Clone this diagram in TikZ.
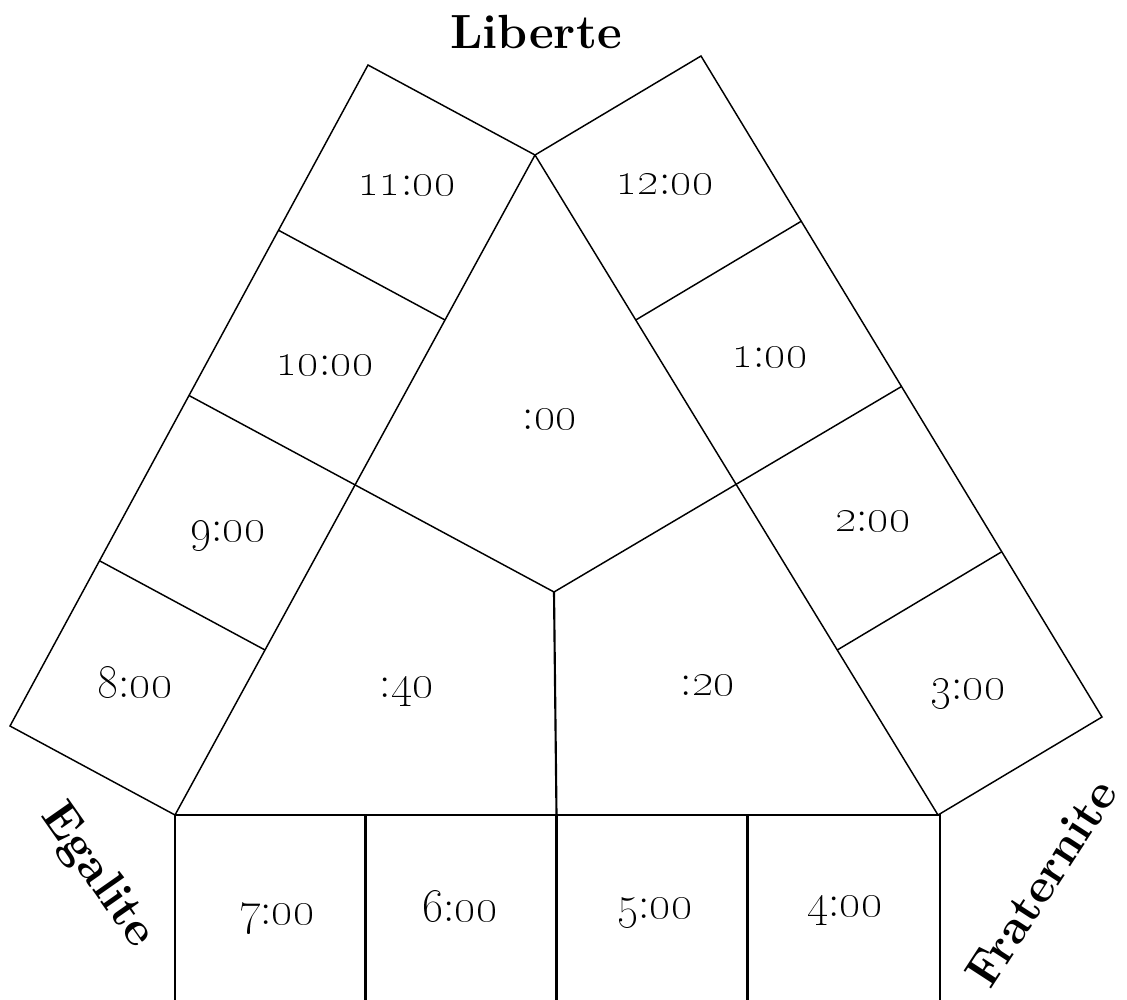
\documentclass[tikz,border=0pt]{standalone}
\usetikzlibrary{calc}

\newcommand{\os}[1]{\oldstylenums{#1}}

\begin{document}
\begin{tikzpicture}[
  x=0.75pt, y=-0.75pt,
  thinline/.style={draw=black, line width=1.1pt, line join=miter},
  thickline/.style={draw=black, line width=2pt},
  hourlabel/.style={font=\fontsize{34}{40}\selectfont, text height=14.6pt,
                    text depth=0pt, inner sep=0pt},
  armlabel/.style={font=\fontsize{36}{42}\selectfont\bfseries, inner sep=0pt},
]
\useasboundingbox (0,0) rectangle (1127,999);

% ── Inner triangle and outer corners ───────────────────────────────────
\coordinate (A)  at (535,155);
\coordinate (B)  at (175,815);
\coordinate (C)  at (938,815);
\coordinate (O)  at (554,592);
\coordinate (LT) at (368,65);
\coordinate (LB) at (10,726);
\coordinate (RT) at (701,56);
\coordinate (RB) at (1102,717);

% ── Left arm (8:00 -- 11:00) ───────────────────────────────────────────
\draw[thinline] (A) -- (LT) -- (LB) -- (B) -- cycle;
\foreach \f in {0.25,0.75}
  \draw[thinline] ($(LT)!\f!(LB)$) -- ($(A)!\f!(B)$);
\draw[thinline] ($(LT)!0.5!(LB)$) -- (O);

% ── Right arm (12:00 -- 3:00) ──────────────────────────────────────────
\draw[thinline] (A) -- (RT) -- (RB) -- (C) -- cycle;
\foreach \f in {0.25,0.75}
  \draw[thinline] ($(RT)!\f!(RB)$) -- ($(A)!\f!(C)$);
\draw[thinline] ($(RT)!0.5!(RB)$) -- (O);

% ── Bottom arm (4:00 -- 7:00) ──────────────────────────────────────────
\draw[line width=1.6pt] (O) -- ($(B)!0.5!(C)$);
\draw[thickline] ($(B)+(0,195)$) -- (B) -- (C) -- ++(2,0) -- ++(0,195);
\foreach \f in {0.25,0.5,0.75}
  \draw[thickline] ($(B)!\f!(C)$) -- ++(0,195);

% ── Hour labels ────────────────────────────────────────────────────────
\node[hourlabel] (h11) at (407,186) {\os{11}:\os{00}};
\node[hourlabel] (h10) at (325,366) {\os{10}:\os{00}};
\node[hourlabel] (h9)  at (228,532) {\os{9}:\os{00}};
\node[hourlabel] (h8)  at (135,688) {\os{8}:\os{00}};
\node[hourlabel] (h12) at (665,185) {\os{12}:\os{00}};
\node[hourlabel] (h1)  at (770,358) {\os{1}:\os{00}};
\node[hourlabel] (h2)  at (873,522) {\os{2}:\os{00}};
\node[hourlabel] (h3)  at (968,690) {\os{3}:\os{00}};
\node[hourlabel] (h7)  at (277,915) {\os{7}:\os{00}};
\node[hourlabel] (h6)  at (460,912) {\os{6}:\os{00}};
\node[hourlabel] (h5)  at (655,909) {\os{5}:\os{00}};
\node[hourlabel] (h4)  at (845,907) {\os{4}:\os{00}};

% ── Minute labels ──────────────────────────────────────────────────────
\node[hourlabel] (m00) at (550,420) {:\os{00}};
\node[hourlabel] (m40) at (407,688) {:\os{40}};
\node[hourlabel] (m20) at (708,686) {:\os{20}};

% ── Arm titles ─────────────────────────────────────────────────────────
\node[armlabel]              (liberte)    at (536,32)   {Liberte};
\node[armlabel, rotate=-55]  (egalite)    at (97,876)   {Egalite};
\node[armlabel, rotate=57]   (fraternite) at (1041,883) {Fraternite};

\end{tikzpicture}
\end{document}
